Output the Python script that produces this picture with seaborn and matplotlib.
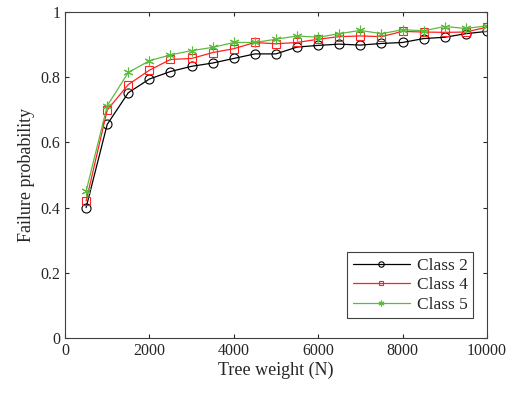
import pandas as pd
import numpy as np
import matplotlib
matplotlib.use("Agg")
import matplotlib.pyplot as plt
import seaborn as sns

weights = [500, 1000, 1500, 2000, 2500, 3000, 3500, 4000, 4500, 5000,
           5500, 6000, 6500, 7000, 7500, 8000, 8500, 9000, 9500, 10000]
class2 = [0.400, 0.655, 0.752, 0.794, 0.817, 0.833, 0.843, 0.857, 0.871, 0.871,
          0.892, 0.897, 0.901, 0.898, 0.903, 0.906, 0.918, 0.922, 0.933, 0.940]
class4 = [0.420, 0.699, 0.777, 0.821, 0.854, 0.857, 0.875, 0.887, 0.906, 0.902,
          0.906, 0.916, 0.924, 0.926, 0.924, 0.940, 0.938, 0.937, 0.938, 0.953]
class5 = [0.450, 0.712, 0.814, 0.850, 0.868, 0.881, 0.891, 0.906, 0.906, 0.916,
          0.926, 0.922, 0.933, 0.943, 0.933, 0.945, 0.942, 0.955, 0.949, 0.957]
labels = ["Class 2", "Class 4", "Class 5"]

sns.set_style("ticks")
plt.rcParams["font.family"] = ["Liberation Serif", "DejaVu Serif"]

fig = plt.figure(figsize=(5.12, 3.94), dpi=100)
ax = fig.add_axes([0.127, 0.142, 0.824, 0.828])

styles = [
    (class2, "black", "o", 6.5),
    (class4, "#ff2020", "s", 5.5),
    (class5, "#5cbb3c", (6, 2, 0), 7),
]
for (vals, color, marker, ms), lab in zip(styles, labels):
    df = pd.DataFrame({"w": weights, "p": vals})
    sns.lineplot(data=df, x="w", y="p", ax=ax, color=color, marker=marker,
                 markersize=ms, markerfacecolor="none", markeredgecolor=color,
                 markeredgewidth=0.8, linewidth=0.9, label=lab)

ax.set_xlim(0, 10000)
ax.set_ylim(0, 1)
ax.set_xticks([0, 2000, 4000, 6000, 8000, 10000])
ax.set_yticks([0, 0.2, 0.4, 0.6, 0.8, 1])
ax.set_yticklabels(["0", "0.2", "0.4", "0.6", "0.8", "1"])
ax.tick_params(direction="in", length=3, width=0.8, labelsize=11.5,
               top=True, right=True, colors="#262626")
for s in ax.spines.values():
    s.set_visible(True)
    s.set_color("#404040")
    s.set_linewidth(0.8)
ax.set_xlabel("Tree weight (N)", fontsize=13, labelpad=2)
ax.set_ylabel("Failure probability", fontsize=13, labelpad=4)

leg = ax.legend(loc="lower right", bbox_to_anchor=(0.967, 0.061),
                fontsize=12.5, fancybox=False, framealpha=1,
                edgecolor="#404040", handlelength=3.3, borderpad=0.3,
                labelspacing=0.2, handletextpad=0.4, borderaxespad=0,
                markerscale=0.6)
leg.get_frame().set_linewidth(0.8)

fig.savefig("out.png", dpi=100)
